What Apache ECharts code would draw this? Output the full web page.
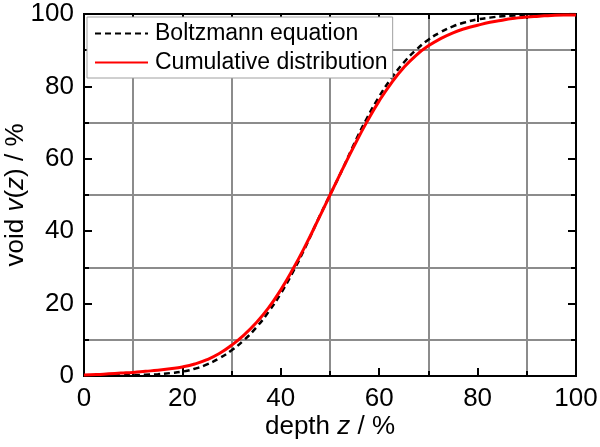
<!DOCTYPE html>
<html>
<head>
<meta charset="utf-8">
<script src="https://cdn.jsdelivr.net/npm/echarts@6/dist/echarts.min.js"></script>
<style>
html, body { margin: 0; padding: 0; background: #fff; }
#chart { width: 600px; height: 447px; }
</style>
</head>
<body>
<div id="chart"></div>
<script>
// depth z (%) sample points, every 2.5 %
var depth = [0, 2.5, 5, 7.5, 10, 12.5, 15, 17.5, 20, 22.5, 25, 27.5, 30, 32.5, 35, 37.5, 40, 42.5, 45, 47.5,
    50, 52.5, 55, 57.5, 60, 62.5, 65, 67.5, 70, 72.5, 75, 77.5, 80, 82.5, 85, 87.5, 90, 92.5, 95, 97.5, 100]
var boltzmann = [0.05, 0.08, 0.12, 0.18, 0.25, 0.35, 0.5, 0.8, 1.2, 2.0, 3.2, 4.9, 7.1, 9.9, 13.4, 17.7, 22.8, 28.8, 35.6, 43.0,
    50, 57.0, 64.4, 71.2, 77.2, 82.3, 86.6, 90.1, 92.9, 95.0, 96.6, 97.7, 98.5, 99.0, 99.4, 99.6, 99.75, 99.85, 99.9, 99.95, 100]
var cumulative = [0.3, 0.4, 0.6, 0.8, 1.0, 1.3, 1.6, 2.0, 2.5, 3.3, 4.5, 6.2, 8.5, 11.3, 14.7, 18.8, 23.8, 29.6, 36.0, 42.9,
    50, 57.0, 63.8, 70.2, 76.0, 81.0, 85.2, 88.6, 91.2, 93.2, 94.8, 96.0, 96.9, 97.7, 98.3, 98.8, 99.2, 99.4, 99.6, 99.7, 99.7]
var seriesNames = ['Boltzmann equation', 'Cumulative distribution']

var font = 'Liberation Sans, Arial, sans-serif'

function pairs(ys) {
    return depth.map(function(x, i) { return [x, ys[i]] })
}

// one axis of the box; labelled ones sit left/bottom, plain ones only carry ticks
function boxAxis(pos, labelled) {
    var ax = {
        type: 'value',
        position: pos,
        min: 0,
        max: 100,
        interval: 20,
        axisLine: { show: true, onZero: false, lineStyle: { color: '#000', width: 2 } },
        axisTick: { show: true, inside: true, length: 8, lineStyle: { color: '#000', width: 2 } },
        minorTick: { show: true, splitNumber: 2, length: 5, lineStyle: { color: '#000', width: 2 } },
        axisLabel: { show: labelled, color: '#000', fontSize: 26, fontFamily: font, margin: 10 },
        splitLine: { show: false },
        minorSplitLine: { show: labelled, lineStyle: { color: '#8c8c8c', width: 2 } }
    }
    return ax
}

var italic = { fontStyle: 'italic', fontSize: 26, fontFamily: font, color: '#000' }

var xBottom = boxAxis('bottom', true)
xBottom.name = 'depth {i|z} / %'
xBottom.nameLocation = 'middle'
xBottom.nameGap = 38
xBottom.nameMoveOverlap = false
xBottom.nameTextStyle = { color: '#000', fontSize: 26, fontFamily: font, rich: { i: italic } }

var yLeft = boxAxis('left', true)
yLeft.name = 'void {i|v}({i|z}) / %'
yLeft.nameLocation = 'middle'
yLeft.nameGap = 55
yLeft.nameMoveOverlap = false
yLeft.nameTextStyle = { color: '#000', fontSize: 26, fontFamily: font, rich: { i: italic } }

var chart = echarts.init(document.getElementById('chart'))
chart.setOption({
    animation: false,
    backgroundColor: '#fff',
    grid: {
        left: 84, right: 24, top: 14, bottom: 71,
        outerBoundsMode: 'none',
        containLabel: false,
        show: true, borderColor: '#000', borderWidth: 2, backgroundColor: 'transparent'
    },
    legend: {
        orient: 'vertical',
        left: 87,
        top: 17,
        padding: [5, 5, 4, 7],
        itemGap: 6,
        itemWidth: 53,
        itemHeight: 14,
        backgroundColor: '#fff',
        borderColor: '#a0a0a0',
        borderWidth: 1,
        borderRadius: 0,
        itemStyle: { opacity: 0 },
        textStyle: { color: '#000', fontSize: 23, fontFamily: font, lineHeight: 22, padding: [0, 0, 0, 2] },
        data: seriesNames
    },
    xAxis: [xBottom, boxAxis('top', false)],
    yAxis: [yLeft, boxAxis('right', false)],
    series: [
        {
            name: seriesNames[0],
            type: 'line',
            smooth: true,
            symbol: 'none',
            data: pairs(boltzmann),
            lineStyle: { color: '#000', width: 2.5, type: [6, 4] },
            itemStyle: { color: '#000' },
            z: 3
        },
        {
            name: seriesNames[1],
            type: 'line',
            smooth: true,
            symbol: 'none',
            data: pairs(cumulative),
            lineStyle: { color: '#ff0000', width: 3 },
            itemStyle: { color: '#ff0000' },
            z: 4
        }
    ]
})
</script>
</body>
</html>
